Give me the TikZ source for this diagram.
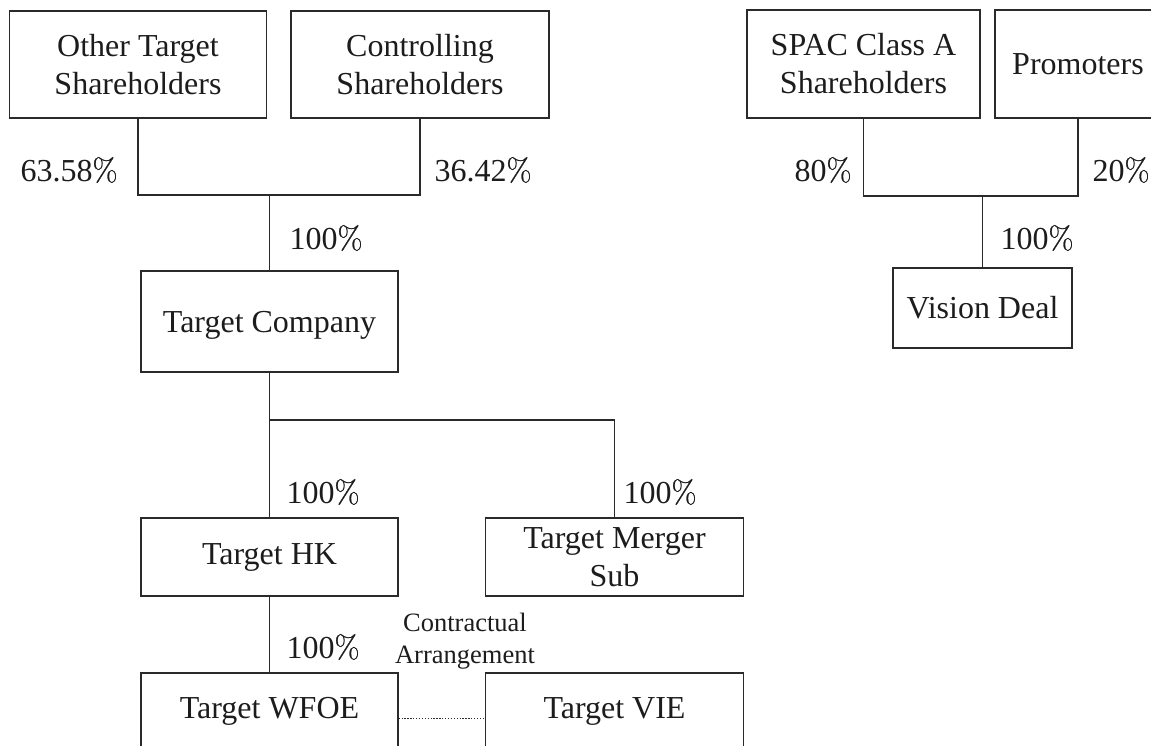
\documentclass[tikz,border=0pt]{standalone}
\usepackage{fontspec}
\setmainfont{Liberation Serif}
\newfontfamily\lmfont[FakeBold=0.8]{Latin Modern Roman}
\newcommand\pc{{\lmfont\%}}
\usetikzlibrary{positioning, calc}
\definecolor{cline}{HTML}{2A2A2A}
\definecolor{ctext}{HTML}{1C1C1C}
\tikzset{
  every picture/.style={line width=1.3pt},
  entity/.style={draw=cline, text=ctext, rectangle, align=center, inner sep=0pt, font=\fontsize{32}{38}\selectfont},
  pct/.style={font=\fontsize{32}{38}\selectfont, text=ctext, inner sep=0pt},
  note/.style={font=\fontsize{26.5}{32}\selectfont, text=ctext, align=center, inner sep=0pt},
  link/.style={draw=cline},
  contract/.style={draw=cline, line width=1pt, dash pattern=on 1.3pt off 1.6pt},
}

\begin{document}
\begin{tikzpicture}[x=1pt, y=-1pt]
  \clip (0,0) rectangle (1151,746);
  % ---------- target shareholders ----------
  \node[entity, minimum width=257pt, minimum height=107pt] (oth) at (138,64.5) {Other Target\\Shareholders};
  \node[entity, minimum width=258pt, minimum height=107pt] (ctl) at (420,64.5) {Controlling\\Shareholders};
  \node[entity, minimum width=257pt, minimum height=101pt, text depth=0pt] (tco) at (269.5,321.5) {Target Company};
  \coordinate (jt) at (tco.north |- 0,195);
  \draw[link] (oth.south) |- (jt) -| (ctl.south);
  \draw[link] (jt) -- (tco.north);
  % ---------- target subsidiaries ----------
  \node[entity, minimum width=257pt, minimum height=78pt] (hk) at (269.5,557) {Target HK};
  \node[entity, minimum width=258pt, minimum height=78pt] (msub) at (614.5,557) {Target Merger\\Sub};
  \node[entity, minimum width=257pt, minimum height=76pt] (wfoe) at (269.5,711) {Target WFOE};
  \node[entity, minimum width=258pt, minimum height=76pt] (vie) at (614.5,711) {Target VIE};
  \coordinate (jc) at (tco.south |- 0,420);
  \draw[link] (tco.south) -- (hk.north);
  \draw[link] (jc) -| (msub.north);
  \draw[link] (hk.south) -- (wfoe.north);
  \draw[contract] ([yshift=-7pt]wfoe.east) -- ([yshift=-7pt]vie.west);
  \node[note] (arr) at (465,641) {Contractual\\Arrangement};
  % ---------- SPAC side ----------
  \node[entity, minimum width=233pt, minimum height=108pt] (spac) at (863.5,64) {SPAC Class A\\Shareholders};
  \node[entity, minimum width=166pt, minimum height=108pt, text depth=0pt] (prom) at (1078,64) {Promoters};
  \node[entity, minimum width=179pt, minimum height=80pt] (vis) at (982.5,308) {Vision Deal};
  \coordinate (js) at (vis.north |- 0,196);
  \draw[link] (spac.south) |- (js) -| (prom.south);
  \draw[link] (js) -- (vis.north);
  % ---------- holdings ----------
  \foreach \t/\x/\y [count=\i] in {63.58\pc/69/170, 36.42\pc/483/170, 100\pc/326/238,
      100\pc/323/492, 100\pc/660/492, 100\pc/323/647, 80\pc/823/170, 20\pc/1121/170, 100\pc/1037/238} {
    \node[pct] (p\i) at (\x,\y) {\t};
  }
\end{tikzpicture}
\end{document}
